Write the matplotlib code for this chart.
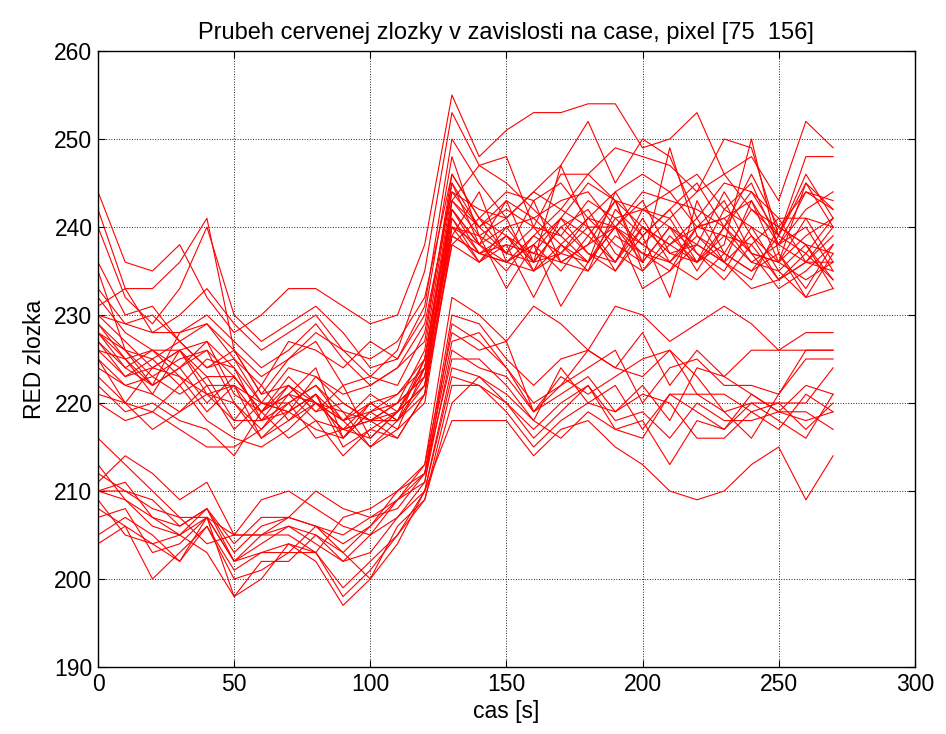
import numpy as np
import matplotlib
matplotlib.use('Agg')
import matplotlib.pyplot as plt

plt.rcParams['font.family'] = ['Liberation Sans', 'DejaVu Sans']

cas = np.arange(0, 280, 10)

# upper group of pixels (ends near 240)
horni = [
    [244, 236, 235, 238, 232, 228, 230, 233, 233, 231, 229, 230, 238, 255, 248, 251, 253, 253, 254, 254, 249, 250, 253, 246, 248, 243, 252, 249],
    [242, 233, 233, 236, 241, 226, 221, 225, 228, 226, 223, 226, 235, 253, 247, 248, 240, 246, 246, 249, 248, 247, 244, 250, 249, 239, 248, 248],
    [240, 232, 229, 233, 240, 230, 227, 229, 231, 228, 224, 225, 231, 250, 245, 241, 244, 247, 252, 245, 250, 248, 241, 245, 244, 239, 246, 241],
    [236, 230, 231, 227, 224, 225, 222, 227, 226, 224, 227, 225, 230, 248, 239, 233, 238, 231, 236, 240, 233, 235, 238, 236, 233, 234, 237, 234],
    [233, 229, 228, 228, 229, 225, 220, 224, 223, 221, 222, 224, 227, 246, 241, 239, 237, 241, 245, 243, 240, 238, 236, 240, 244, 241, 241, 240],
    [232, 228, 226, 226, 223, 223, 219, 221, 224, 216, 219, 220, 226, 245, 238, 240, 236, 247, 240, 240, 236, 249, 239, 236, 243, 236, 245, 242],
    [230, 227, 224, 226, 227, 224, 218, 220, 222, 219, 218, 219, 225, 244, 240, 237, 243, 236, 238, 243, 235, 238, 240, 243, 237, 236, 234, 236],
    [229, 226, 225, 227, 224, 226, 221, 222, 219, 222, 216, 219, 224, 243, 239, 241, 235, 241, 239, 236, 241, 236, 234, 237, 242, 240, 238, 233],
    [229, 225, 222, 224, 227, 221, 219, 223, 220, 218, 220, 218, 225, 242, 237, 238, 232, 238, 235, 242, 239, 232, 243, 237, 235, 237, 232, 237],
    [228, 224, 226, 223, 221, 222, 220, 219, 223, 220, 218, 218, 223, 242, 238, 236, 239, 242, 240, 236, 242, 240, 237, 235, 240, 238, 236, 235],
    [228, 226, 223, 225, 226, 223, 219, 222, 220, 217, 220, 221, 224, 241, 237, 239, 236, 237, 241, 240, 237, 235, 240, 241, 237, 236, 239, 241],
    [227, 223, 224, 226, 222, 222, 218, 219, 221, 216, 219, 217, 224, 240, 239, 237, 240, 236, 238, 240, 238, 241, 236, 239, 238, 234, 236, 239],
    [227, 224, 222, 224, 226, 220, 217, 221, 218, 217, 218, 220, 223, 240, 238, 243, 236, 240, 237, 236, 240, 238, 241, 236, 234, 240, 238, 234],
    [226, 223, 225, 222, 225, 224, 220, 220, 222, 218, 221, 219, 224, 239, 244, 236, 238, 235, 239, 243, 236, 240, 238, 244, 239, 234, 236, 236],
    [226, 225, 221, 226, 221, 220, 216, 219, 221, 215, 217, 219, 222, 241, 236, 240, 241, 238, 236, 240, 243, 237, 236, 238, 250, 237, 233, 238],
    [225, 222, 223, 221, 223, 218, 218, 222, 219, 220, 218, 220, 223, 239, 237, 236, 235, 237, 240, 235, 239, 242, 237, 234, 238, 241, 236, 240],
    [225, 220, 224, 223, 219, 222, 216, 218, 221, 218, 215, 218, 222, 238, 236, 238, 237, 236, 235, 239, 237, 236, 240, 239, 236, 238, 240, 235],
    [224, 222, 221, 219, 222, 217, 220, 219, 217, 216, 220, 218, 221, 238, 241, 237, 236, 240, 242, 237, 235, 239, 236, 242, 240, 235, 238, 237],
    [223, 220, 219, 222, 218, 216, 215, 217, 220, 217, 216, 219, 222, 242, 238, 235, 239, 237, 236, 241, 238, 236, 239, 237, 235, 239, 237, 241],
    [222, 219, 220, 218, 217, 214, 219, 216, 218, 214, 217, 216, 221, 240, 236, 239, 235, 238, 241, 238, 236, 240, 235, 240, 237, 233, 235, 238],
    [221, 220, 217, 219, 221, 218, 222, 218, 220, 219, 215, 217, 220, 239, 237, 236, 238, 241, 237, 235, 240, 237, 238, 236, 239, 236, 241, 236],
    [220, 218, 219, 217, 215, 215, 217, 220, 216, 217, 218, 216, 221, 243, 240, 242, 240, 239, 243, 241, 242, 244, 240, 241, 243, 238, 242, 244],
    [231, 233, 228, 230, 233, 229, 226, 228, 230, 226, 225, 227, 232, 246, 241, 244, 243, 245, 241, 244, 246, 244, 246, 242, 245, 238, 244, 242],
    [235, 226, 222, 228, 230, 227, 224, 226, 229, 225, 222, 224, 229, 244, 242, 241, 244, 242, 246, 243, 242, 241, 244, 246, 242, 239, 245, 240],
    [230, 229, 230, 227, 229, 226, 223, 225, 227, 222, 223, 222, 228, 245, 240, 243, 241, 243, 244, 240, 244, 243, 242, 240, 246, 240, 244, 243],
    [228, 225, 226, 224, 220, 223, 219, 221, 220, 218, 219, 221, 225, 243, 247, 245, 242, 239, 236, 244, 239, 242, 245, 240, 236, 235, 232, 233],
]

# lower group of pixels (ends near 220)
dolni = [
    [216, 213, 210, 207, 204, 205, 209, 210, 208, 206, 205, 209, 213, 232, 230, 227, 231, 229, 226, 231, 230, 227, 229, 231, 229, 226, 228, 228],
    [213, 209, 207, 206, 208, 203, 206, 207, 206, 203, 206, 210, 212, 230, 229, 225, 222, 225, 226, 224, 228, 222, 226, 223, 226, 226, 226, 226],
    [211, 214, 212, 209, 211, 205, 205, 205, 203, 207, 208, 210, 213, 228, 226, 227, 219, 222, 224, 226, 220, 224, 225, 222, 222, 221, 225, 225],
    [210, 210, 208, 207, 207, 205, 205, 207, 210, 208, 207, 208, 212, 227, 228, 224, 220, 222, 226, 224, 223, 226, 221, 221, 219, 220, 220, 224],
    [210, 209, 206, 205, 208, 202, 204, 206, 205, 202, 205, 207, 211, 226, 224, 223, 219, 221, 223, 219, 222, 218, 224, 223, 221, 219, 222, 221],
    [209, 205, 204, 202, 207, 202, 203, 203, 206, 204, 206, 209, 212, 225, 225, 222, 218, 224, 220, 222, 217, 221, 221, 219, 220, 220, 217, 220],
    [208, 206, 200, 203, 206, 201, 203, 204, 203, 199, 202, 205, 210, 224, 223, 220, 216, 219, 222, 218, 219, 216, 220, 218, 218, 219, 218, 219],
    [207, 208, 203, 204, 207, 198, 200, 204, 202, 197, 200, 206, 209, 222, 222, 219, 215, 218, 220, 219, 221, 220, 216, 216, 219, 217, 221, 219],
    [205, 207, 205, 202, 206, 200, 201, 203, 203, 198, 201, 205, 209, 220, 223, 221, 218, 216, 219, 217, 218, 213, 218, 217, 220, 218, 216, 221],
    [204, 206, 204, 205, 203, 198, 202, 202, 205, 203, 200, 204, 210, 218, 218, 218, 214, 217, 218, 215, 213, 210, 209, 210, 213, 215, 209, 214],
    [212, 210, 209, 206, 208, 204, 207, 207, 206, 205, 207, 209, 211, 229, 227, 224, 219, 223, 221, 223, 225, 226, 223, 219, 216, 221, 226, 226],
    [210, 211, 207, 205, 207, 202, 205, 206, 204, 202, 203, 207, 210, 223, 222, 220, 217, 220, 222, 217, 216, 221, 219, 217, 221, 219, 219, 217],
]

fig = plt.figure(figsize=(9.46, 7.34), dpi=100, facecolor='white')
ax = fig.add_axes([0.1036, 0.0913, 0.8634, 0.8392])

for radek in horni + dolni:
    ax.plot(cas, radek, color='#ff0000', linewidth=0.8)

ax.set_xlim(0, 300)
ax.set_ylim(190, 260)
ax.set_xticks(np.arange(0, 301, 50))
ax.set_yticks(np.arange(190, 261, 10))
ax.grid(True, color='#222222', linestyle=':', linewidth=0.7)
ax.tick_params(direction='in', top=True, right=True, labelsize=16.5, length=5, pad=4)
for s in ax.spines.values():
    s.set_linewidth(1.0)

ax.set_title('Prubeh cervenej zlozky v zavislosti na case, pixel [75  156]', fontsize=17, pad=9)
ax.set_xlabel('cas [s]', fontsize=16.5, labelpad=3)
ax.set_ylabel('RED zlozka', fontsize=16.5, labelpad=6)

fig.savefig('out.png', dpi=100)
